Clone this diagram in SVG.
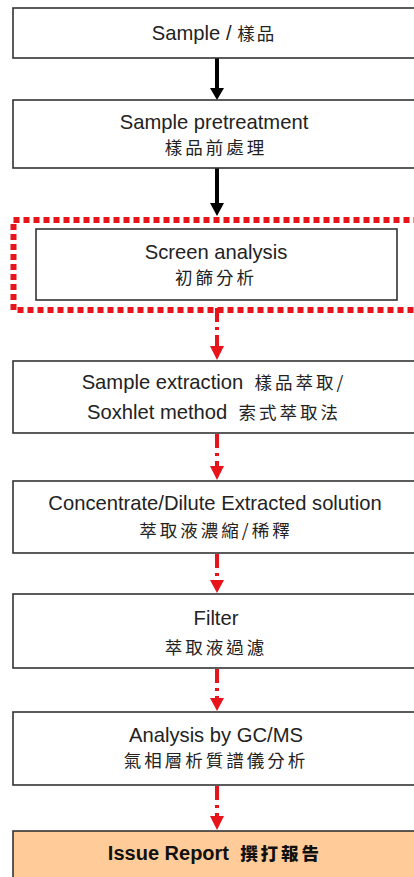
<svg xmlns="http://www.w3.org/2000/svg" width="414" height="877" viewBox="0 0 414 877">
<defs>
<style>
.box{fill:#fff;stroke:#333;stroke-width:1.6}
.rep{fill:#FFCC99;stroke:#333;stroke-width:1.6}
.en{font-family:"Liberation Sans",Arial,sans-serif;font-size:20.2px;fill:#222;text-anchor:middle}
.zh{font-family:"Noto Sans CJK TC","Noto Sans CJK SC",sans-serif;font-size:17.5px;letter-spacing:3px;fill:#222;text-anchor:middle}
.zt{font-family:"Noto Sans CJK TC","Noto Sans CJK SC",sans-serif;font-size:17.5px;letter-spacing:3px}
.bold{font-family:"Liberation Sans",Arial,"Noto Sans CJK TC",sans-serif;font-size:20px;font-weight:bold;fill:#111;text-anchor:middle}
.blk{stroke:#000;stroke-width:4;fill:none}
.red{stroke:#E8141B;stroke-width:4;fill:none;stroke-dasharray:14 5 3 5}
.redb{stroke:#E8141B;stroke-width:6;fill:none;stroke-dasharray:6 4}
</style>
</defs>
<rect width="414" height="877" fill="#fff"/>
<g id="connectors">
<line class="blk" x1="217" y1="58" x2="217" y2="88"/><path d="M210,88 L224,88 L217,100 Z" fill="#000"/>
<line class="blk" x1="217" y1="168" x2="217" y2="203"/><path d="M210,203 L224,203 L217,216 Z" fill="#000"/>
<line class="red" x1="217" y1="308" x2="217" y2="346"/><path d="M210,346 L224,346 L217,360 Z" fill="#E8141B"/>
<line class="red" x1="217" y1="434" x2="217" y2="466"/><path d="M210,466 L224,466 L217,480 Z" fill="#E8141B"/>
<line class="red" x1="217" y1="554" x2="217" y2="580"/><path d="M210,580 L224,580 L217,593 Z" fill="#E8141B"/>
<line class="red" x1="217" y1="669" x2="217" y2="698"/><path d="M210,698 L224,698 L217,711 Z" fill="#E8141B"/>
<line class="red" x1="217" y1="786" x2="217" y2="816"/><path d="M210,816 L224,816 L217,830 Z" fill="#E8141B"/>
</g>
<g id="sample">
<rect class="box" x="13" y="8" width="420" height="50"/>
<text class="en" x="214" y="40">Sample / <tspan class="zt" style="letter-spacing:2px">樣品</tspan></text>
</g>
<g id="pretreatment">
<rect class="box" x="13" y="100" width="420" height="68"/>
<text class="en" x="214" y="129">Sample pretreatment</text>
<text class="zh" x="216" y="154">樣品前處理</text>
</g>
<g id="screen">
<rect class="redb" x="13.5" y="220" width="420" height="90"/>
<rect class="box" x="36" y="229" width="361" height="71"/>
<text class="en" x="216" y="259">Screen analysis</text>
<text class="zh" x="216" y="284">初篩分析</text>
</g>
<g id="extraction">
<rect class="box" x="13" y="361" width="420" height="72"/>
<text class="en" x="214" y="389">Sample extraction&#160; <tspan class="zt">樣品萃取/</tspan></text>
<text class="en" x="214" y="419">Soxhlet method&#160; <tspan class="zt">索式萃取法</tspan></text>
</g>
<g id="concentrate">
<rect class="box" x="13" y="481" width="420" height="72"/>
<text class="en" x="215" y="510">Concentrate/Dilute Extracted solution</text>
<text class="zh" x="216" y="537">萃取液濃縮/稀釋</text>
</g>
<g id="filter">
<rect class="box" x="13" y="594" width="420" height="74"/>
<text class="en" x="216" y="625">Filter</text>
<text class="zh" x="216" y="654">萃取液過濾</text>
</g>
<g id="gcms">
<rect class="box" x="13" y="712" width="420" height="73"/>
<text class="en" x="216" y="742">Analysis by GC/MS</text>
<text class="zh" x="216" y="767">氣相層析質譜儀分析</text>
</g>
<g id="report">
<rect class="rep" x="13" y="831" width="420" height="60"/>
<text class="bold" x="215" y="860">Issue Report&#160; <tspan class="zt" style="font-weight:900">撰打報告</tspan></text>
</g>
</svg>
